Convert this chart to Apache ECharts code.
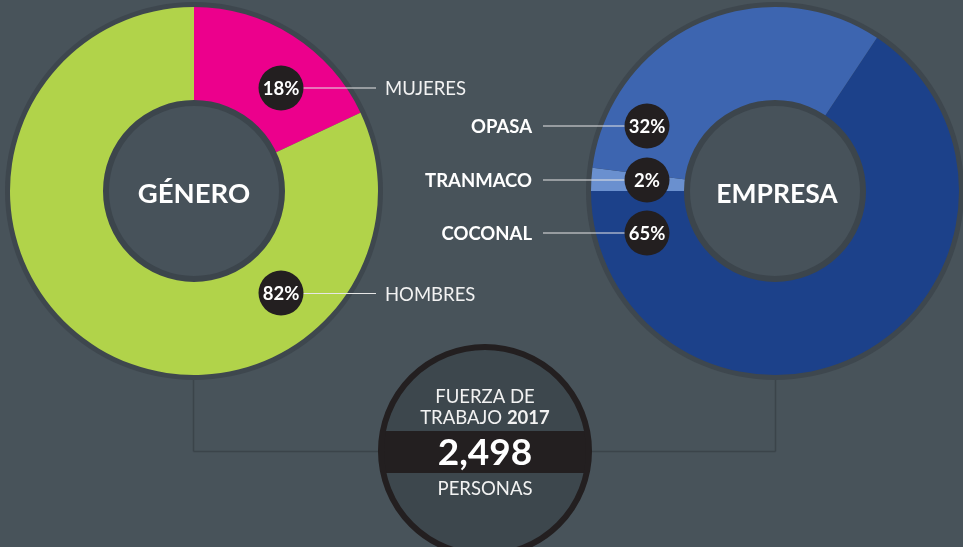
<!DOCTYPE html>
<html>
<head>
<meta charset="utf-8">
<script src="https://cdn.jsdelivr.net/npm/echarts@6/dist/echarts.min.js"></script>
<style>
  html, body { margin: 0; padding: 0; background: #48535a; }
  #chart { width: 963px; height: 547px; }
</style>
</head>
<body>
<div id="chart"></div>
<script>
// datos
const generoLabels = ['MUJERES', 'HOMBRES'];
const generoValues = [18, 82];
const generoColors = ['#ec008c', '#b1d34a'];

const empresaLabels = ['COCONAL', 'TRANMACO', 'OPASA'];
const empresaValues = [65, 2, 32];
const empresaColors = ['#1c418a', '#6a90cf', '#3d65b0'];

const anio = '2017';
const totalPersonas = '2,498';

const FONT = 'Lato, "Open Sans", sans-serif';
const BG = '#48535a';

let myChart = echarts.init(document.getElementById('chart'), null, { renderer: 'canvas' });

// centros de las donas
const gC = [194, 191];
const eC = [775, 191];

function txt(x, y, text, size, weight, align, color) {
  return {
    type: 'text', x: x, y: y, z: 20,
    style: {
      text: text, fill: color || '#ffffff',
      font: weight + ' ' + size + 'px ' + FONT,
      textAlign: align, textVerticalAlign: 'middle',
      align: align, verticalAlign: 'middle'
    }
  };
}
function badge(cx, cy, value) {
  return [
    { type: 'circle', z: 15, shape: { cx: cx, cy: cy, r: 22.5 }, style: { fill: '#231f20' } },
    txt(cx, cy + 1, value + '%', 18.5, 'bold', 'center')
  ];
}
function line(x1, y1, x2, y2, color, w, z) {
  return { type: 'line', z: z || 14, shape: { x1: x1, y1: y1, x2: x2, y2: y2 },
    style: { stroke: color, lineWidth: w } };
}

let g = [];
// lineas de conexion al circulo inferior
g.push(line(193.5, 378, 193.5, 451.5, '#3b444a', 1.5, 1));
g.push(line(193.5, 451.5, 385, 451.5, '#3b444a', 1.5, 1));
g.push(line(775.5, 378, 775.5, 451.5, '#3b444a', 1.5, 1));
g.push(line(585, 451.5, 775.5, 451.5, '#3b444a', 1.5, 1));

// anillos exteriores e interiores
[gC, eC].forEach(function (c) {
  g.push({ type: 'circle', z: 1, shape: { cx: c[0], cy: c[1], r: 189 }, style: { fill: '#3e474e' } });
  g.push({ type: 'circle', z: 12, shape: { cx: c[0], cy: c[1], r: 88 }, style: { fill: '#47525a', stroke: '#3c454c', lineWidth: 6 } });
});
g.push(txt(gC[0], gC[1] + 3, 'GÉNERO', 27.5, 'bold', 'center'));
g.push(txt(eC[0] + 2, eC[1] + 3, 'EMPRESA', 26.5, 'bold', 'center'));

// etiquetas genero
g = g.concat(badge(281, 88, generoValues[0]));
g = g.concat(badge(281, 293, generoValues[1]));
g.push(line(303, 88, 376, 88, '#e6e6e6', 1.2));
g.push(line(303, 293.5, 376, 293.5, '#e6e6e6', 1.2));
g.push(txt(385, 89, generoLabels[0], 18.5, 'normal', 'left', '#f2f2f2'));
g.push(txt(385, 295, generoLabels[1], 18.5, 'normal', 'left', '#f2f2f2'));

// etiquetas empresa (de arriba hacia abajo: OPASA, TRANMACO, COCONAL)
const ys = [233, 180, 126];
empresaLabels.forEach(function (name, i) {
  g = g.concat(badge(647, ys[i], empresaValues[i]));
  g.push(line(543, ys[i], 626, ys[i], '#e6e6e6', 1.2));
  g.push(txt(532, ys[i] + 1, name, 18.5, 'bold', 'right'));
});

// circulo del total
const tC = [485, 451];
g.push({ type: 'circle', z: 16, shape: { cx: tC[0], cy: tC[1], r: 104 }, style: { fill: '#3d474d' } });
g.push({ type: 'rect', z: 17, shape: { x: tC[0] - 103, y: 431, width: 206, height: 42 }, style: { fill: '#231f20' } });
g.push({ type: 'circle', z: 18, shape: { cx: tC[0], cy: tC[1], r: 104 }, style: { fill: 'none', stroke: '#231f20', lineWidth: 6 } });
g.push(txt(tC[0], 397, 'FUERZA DE', 18.5, 'normal', 'center', '#f2f2f2'));
g.push({
  type: 'text', x: tC[0], y: 418, z: 20,
  style: {
    text: 'TRABAJO {b|' + anio + '}', fill: '#f2f2f2',
    font: 'normal 18.5px ' + FONT,
    textAlign: 'center', textVerticalAlign: 'middle', align: 'center', verticalAlign: 'middle',
    rich: { b: { fontWeight: 'bold', fontSize: 18.5, fontFamily: FONT, fill: '#f2f2f2' } }
  }
});
g.push(txt(tC[0], 453, totalPersonas, 37, 'bold', 'center'));
g.push(txt(tC[0], 489, 'PERSONAS', 18.5, 'normal', 'center', '#f2f2f2'));

// el sector COCONAL termina justo a las 9 en punto
const empSum = empresaValues.reduce(function (a, b) { return a + b; }, 0);
const empStart = 90 - (270 - 360 * empresaValues[0] / empSum);

let option = {
  backgroundColor: BG,
  animation: false,
  graphic: { elements: g },
  series: [
    {
      name: 'Género', type: 'pie', z: 5,
      center: gC, radius: [88, 184],
      startAngle: 90, clockwise: true, silent: true,
      label: { show: false }, labelLine: { show: false },
      data: generoLabels.map(function (n, i) {
        return { name: n, value: generoValues[i], itemStyle: { color: generoColors[i] } };
      })
    },
    {
      name: 'Empresa', type: 'pie', z: 5,
      center: eC, radius: [88, 184],
      startAngle: empStart, clockwise: true, silent: true,
      label: { show: false }, labelLine: { show: false },
      data: empresaLabels.map(function (n, i) {
        return { name: n, value: empresaValues[i], itemStyle: { color: empresaColors[i] } };
      })
    }
  ]
};
myChart.setOption(option);
</script>
</body>
</html>
